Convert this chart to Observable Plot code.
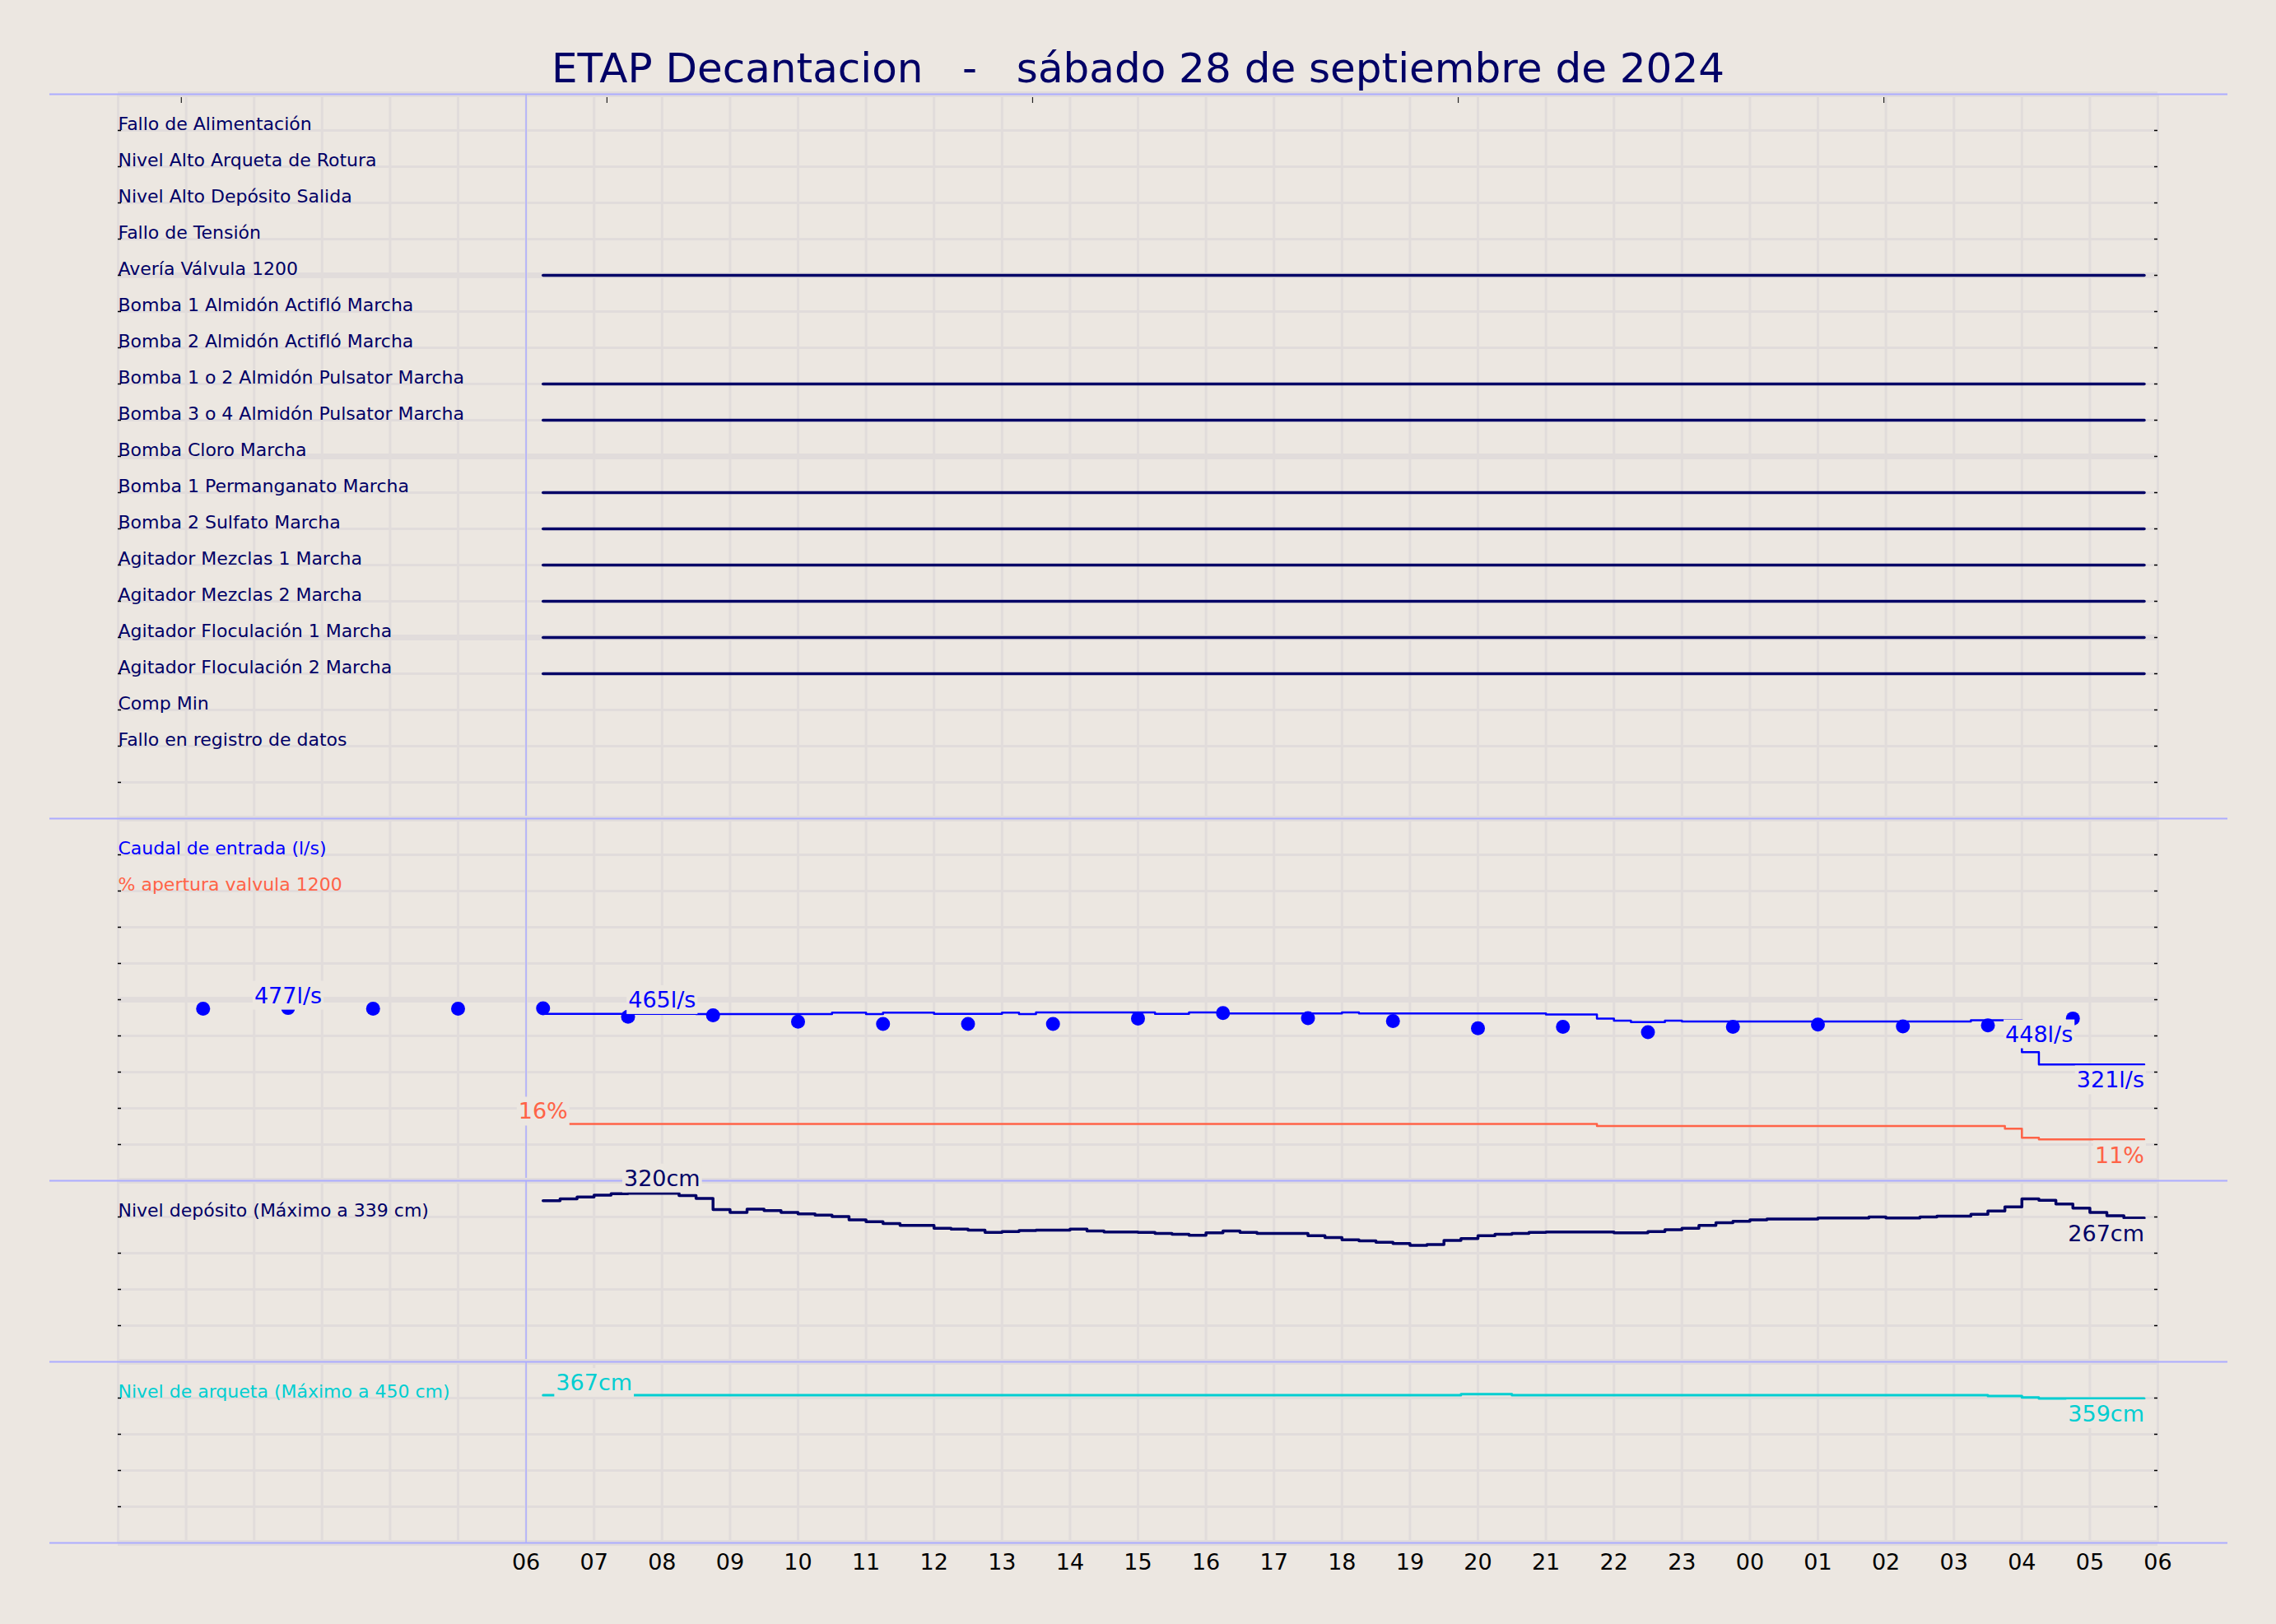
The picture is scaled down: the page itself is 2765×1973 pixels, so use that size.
<!DOCTYPE html>
<html lang="es">
<head>
<meta charset="utf-8">
<title>ETAP Decantacion</title>
<script src="https://cdn.jsdelivr.net/npm/d3@7"></script>
<script src="https://cdn.jsdelivr.net/npm/@observablehq/plot@0.6"></script>
<style>
  html, body { margin: 0; padding: 0; background: #ece7e1; }
  #lienzo { position: relative; width: 2765px; height: 1973px; background: #ece7e1; overflow: hidden; font-family: "DejaVu Sans", sans-serif; }
  #titulo { position: absolute; left: 0; top: 58px; width: 2765px; text-align: center; font-size: 50px; line-height: 50px; color: #000066; white-space: pre; }
  .panel { position: absolute; left: 0; width: 2765px; }
  .panel svg { display: block; overflow: visible; max-width: none; }
</style>
</head>
<body>
<div id="lienzo"><div id="titulo"></div></div>
<script>
// ------------------------------------------------------------------ datos
const titulo = "ETAP Decantacion   -   sábado 28 de septiembre de 2024";

// horas desde las 00:00 del sábado (6 = 06:00, 30 = 06:00 del domingo)
const horasEje = [6, 7, 8, 9, 10, 11, 12, 13, 14, 15, 16, 17, 18, 19, 20, 21, 22, 23, 24, 25, 26, 27, 28, 29, 30];
const etiquetasEje = ["06", "07", "08", "09", "10", "11", "12", "13", "14", "15", "16", "17", "18", "19", "20", "21", "22", "23", "00", "01", "02", "03", "04", "05", "06"];
const marcasSuperiores = [0.93, 7.19, 13.45, 19.71, 25.97];

const senales = [
  "Fallo de Alimentación",
  "Nivel Alto Arqueta de Rotura",
  "Nivel Alto Depósito Salida",
  "Fallo de Tensión",
  "Avería Válvula 1200",
  "Bomba 1 Almidón Actifló Marcha",
  "Bomba 2 Almidón Actifló Marcha",
  "Bomba 1 o 2 Almidón Pulsator Marcha",
  "Bomba 3 o 4 Almidón Pulsator Marcha",
  "Bomba Cloro Marcha",
  "Bomba 1 Permanganato Marcha",
  "Bomba 2 Sulfato Marcha",
  "Agitador Mezclas 1 Marcha",
  "Agitador Mezclas 2 Marcha",
  "Agitador Floculación 1 Marcha",
  "Agitador Floculación 2 Marcha",
  "Comp Min",
  "Fallo en registro de datos"
];
const senalesActivas = [0, 0, 0, 0, 1, 0, 0, 1, 1, 0, 1, 1, 1, 1, 1, 1, 0, 0];
const estadoHoras = [6.25, 29.8];

const caudalHoras   = [6.25, 8.5, 10.5, 11.0, 11.25, 12.0, 13.0, 13.25, 13.5, 15.25, 15.75, 16.25, 18.0, 18.25, 21.0, 21.75, 22.0, 22.25, 22.75, 23.0, 27.25, 28.0, 28.25, 29.8];
const caudalValores = [461, 460, 464, 460, 464, 461, 464, 460, 465, 461, 465, 462, 465, 462, 459, 448, 442, 438, 442, 440, 443, 355, 321, 321];

const caudalRefHoras   = [1.25, 2.5, 3.75, 5.0, 6.25, 7.5, 8.75, 10.0, 11.25, 12.5, 13.75, 15.0, 16.25, 17.5, 18.75, 20.0, 21.25, 22.5, 23.75, 25.0, 26.25, 27.5, 28.75];
const caudalRefValores = [475, 477, 475, 475, 476, 453, 457, 439, 433, 433, 433, 448, 463, 449, 441, 421, 425, 410, 425, 431, 426, 429, 448];

const aperturaHoras   = [6.25, 21.75, 27.75, 28.0, 28.25, 29.8];
const aperturaValores = [15.7, 15.1, 14.4, 11.9, 11.4, 11.4];

const depositoHoras = d3.range(6.25, 29.75, 0.25).concat([29.8]);
const depositoValores = [
  304, 308, 312,
  316, 319, 320, 320,
  320, 315, 309, 285,
  279, 286, 283, 279,
  276, 273, 270, 263,
  259, 255, 251, 251,
  245, 243, 241, 236,
  238, 240, 241, 241,
  243, 239, 237, 237,
  236, 234, 232, 230,
  235, 239, 236, 234,
  234, 234, 229, 225,
  220, 218, 215, 212,
  208, 210, 219, 223,
  229, 232, 234, 236,
  237, 237, 237, 237,
  235, 235, 238, 242,
  245, 251, 257, 260,
  263, 265, 265, 265,
  267, 267, 267, 269,
  267, 267, 269, 271,
  271, 275, 282, 291,
  308, 305, 297, 288,
  279, 272, 267,
  267
];

const arquetaHoras   = [6.25, 19.75, 20.5, 27.5, 28.0, 28.25, 29.8];
const arquetaValores = [367, 369.5, 367, 365, 361.5, 359, 359];

// anotaciones de valores (hora, valor, texto)
const anotCaudalArriba   = [{hora: 8.0, valor: 465, texto: "465l/s"}, {hora: 2.5, valor: 477, texto: "477l/s"}];
const anotCaudalAbajo    = [{hora: 29.8, valor: 321, texto: "321l/s"}, {hora: 28.75, valor: 448, texto: "448l/s"}];
const anotAperturaArriba = [{hora: 6.25, valor: 15.7, texto: "16%"}];
const anotAperturaAbajo  = [{hora: 29.8, valor: 11.4, texto: "11%"}];
const anotDepositoArriba = [{hora: 8.0, valor: 320, texto: "320cm"}];
const anotDepositoAbajo  = [{hora: 29.8, valor: 267, texto: "267cm"}];
const anotArquetaArriba  = [{hora: 7.0, valor: 367, texto: "367cm"}];
const anotArquetaAbajo   = [{hora: 29.8, valor: 359, texto: "359cm"}];

// ------------------------------------------------------------------ estilo
const FONDO = "#ece7e1";
const GRIS = "#e1dcdb";
const AZUL_CLARO = "#acacff";
const MARINO = "#000066";
const AZUL = "#0000ff";
const NARANJA = "#ff6347";
const TURQUESA = "#00ced1";
const W = 2765, ML = 143, MR = 144;
const ANCHO_MARCO = W - ML - MR;
const FILA = 44;
const TAM_ROTULO = 22;
const TAM_VALOR = 27;
const PAD_CAJA = 2;

document.getElementById("titulo").textContent = titulo;

const serie = (horas, valores) => horas.map((h, i) => ({h, v: valores[i]}));

function filasPanel(dominio, n, invertido) {
  const [lo, hi] = dominio;
  return d3.range(n + 1).map(k => ({k, v: invertido ? lo + k * (hi - lo) / n : hi - k * (hi - lo) / n}));
}

function fondoPanel({dominio, n, filaInicial, invertido, separadorInferior}) {
  const filas = filasPanel(dominio, n, invertido);
  const menores = filas.filter(f => (filaInicial + f.k) % 5 !== 0);
  const mayores = filas.filter(f => (filaInicial + f.k) % 5 === 0);
  const interiores = filas.filter(f => f.k > 0 && f.k < n);
  const seps = separadorInferior ? [filas[0], filas[n]] : [filas[0]];
  return [
    Plot.ruleX(d3.range(0, 31), {stroke: GRIS, strokeWidth: 3}),
    Plot.ruleY(menores, {y: "v", stroke: GRIS, strokeWidth: 3}),
    Plot.ruleY(mayores, {y: "v", stroke: GRIS, strokeWidth: 7}),
    Plot.ruleX([6], {stroke: AZUL_CLARO, strokeWidth: 1.5}),
    Plot.tickY(seps, {y: "v", insetLeft: -83, insetRight: -85, stroke: AZUL_CLARO, strokeWidth: 2}),
    Plot.tickY(interiores, {y: "v", insetRight: ANCHO_MARCO - 4, stroke: "black", strokeWidth: 1.5}),
    Plot.tickY(interiores, {y: "v", insetLeft: ANCHO_MARCO - 4, stroke: "black", strokeWidth: 1.5})
  ];
}

function grafico({alto, dominio, invertido = false, margenInferior = 0, marcas}) {
  return Plot.plot({
    width: W,
    height: alto + margenInferior,
    marginLeft: ML, marginRight: MR, marginTop: 0, marginBottom: margenInferior,
    x: {domain: [0, 30], axis: null},
    y: {domain: dominio, reverse: invertido, axis: null},
    style: {background: "transparent", overflow: "visible", fontFamily: "DejaVu Sans", fontSize: "27px", maxWidth: "none"},
    marks: marcas
  });
}

const textosConCaja = new Set();
function etiquetas(arriba, abajo, color, dyArriba = -6) {
  [...arriba, ...abajo].forEach(a => textosConCaja.add(a.texto));
  return [
    Plot.text(arriba, {x: "hora", y: "valor", text: "texto", textAnchor: "middle", lineAnchor: "bottom", dy: dyArriba, fill: color, fontSize: TAM_VALOR}),
    Plot.text(abajo, {x: "hora", y: "valor", text: "texto", textAnchor: "end", lineAnchor: "top", dy: 9, fill: color, fontSize: TAM_VALOR})
  ];
}

function rotulo(texto, valor, color) {
  return Plot.text([texto], {x: () => 0, y: () => valor, text: d => d, textAnchor: "start", lineAnchor: "bottom", dy: -1, fill: color, fontSize: TAM_ROTULO});
}

function colocar(svg, top) {
  const div = document.createElement("div");
  div.className = "panel";
  div.style.top = top + "px";
  div.appendChild(svg);
  document.getElementById("lienzo").appendChild(div);
}

// ------------------------------------------------------------------ panel 1: señales
const dom1 = [0, 20];
const estados = senales.flatMap((s, i) => senalesActivas[i] ? estadoHoras.map(h => ({senal: s, h, fila: i + 1})) : []);
colocar(grafico({
  alto: 20 * FILA, dominio: dom1, invertido: true,
  marcas: [
    ...fondoPanel({dominio: dom1, n: 20, filaInicial: 0, invertido: true}),
    Plot.tickX(marcasSuperiores, {x: d => d, insetTop: 4, insetBottom: 20 * FILA - 11, stroke: "#222", strokeWidth: 1.2}),
    Plot.line(estados, {x: "h", y: "fila", z: "senal", curve: "step-after", stroke: MARINO, strokeWidth: 3.5}),
    Plot.text(senales, {x: () => 0, y: (d, i) => i + 1, text: d => d, textAnchor: "start", lineAnchor: "bottom", dy: -1, fill: MARINO, fontSize: TAM_ROTULO})
  ]
}), 114);

// ------------------------------------------------------------------ panel 2: caudal y apertura
const dom2 = [0, 1000];
const filas2 = filasPanel(dom2, 10, false);
colocar(grafico({
  alto: 10 * FILA, dominio: dom2,
  marcas: [
    ...fondoPanel({dominio: dom2, n: 10, filaInicial: 20}),
    rotulo("Caudal de entrada (l/s)", filas2[1].v, AZUL),
    rotulo("% apertura valvula 1200", filas2[2].v, NARANJA),
    Plot.line(serie(caudalHoras, caudalValores), {x: "h", y: "v", curve: "step-after", stroke: AZUL, strokeWidth: 2.5}),
    Plot.dot(serie(caudalRefHoras, caudalRefValores), {x: "h", y: "v", r: 8.5, fill: AZUL, stroke: "none"}),
    ...etiquetas(anotCaudalArriba, anotCaudalAbajo, AZUL)
  ]
}), 994);
colocar(grafico({
  alto: 10 * FILA, dominio: [0, 100],
  marcas: [
    Plot.line(serie(aperturaHoras, aperturaValores), {x: "h", y: "v", curve: "step-after", stroke: NARANJA, strokeWidth: 2.5}),
    ...etiquetas(anotAperturaArriba, anotAperturaAbajo, NARANJA)
  ]
}), 994);

// ------------------------------------------------------------------ panel 3: nivel depósito
const dom3 = [-42, 347];
const filas3 = filasPanel(dom3, 5, false);
colocar(grafico({
  alto: 5 * FILA, dominio: dom3,
  marcas: [
    ...fondoPanel({dominio: dom3, n: 5, filaInicial: 30}),
    rotulo("Nivel depósito (Máximo a 339 cm)", filas3[1].v, MARINO),
    Plot.line(serie(depositoHoras, depositoValores), {x: "h", y: "v", curve: "step-after", stroke: MARINO, strokeWidth: 3.5}),
    ...etiquetas(anotDepositoArriba, anotDepositoAbajo, MARINO, -9)
  ]
}), 1434);

// ------------------------------------------------------------------ panel 4: nivel arqueta + eje
const dom4 = [0, 450];
const filas4 = filasPanel(dom4, 5, false);
colocar(grafico({
  alto: 5 * FILA, dominio: dom4, margenInferior: 99,
  marcas: [
    ...fondoPanel({dominio: dom4, n: 5, filaInicial: 35, separadorInferior: true}),
    rotulo("Nivel de arqueta (Máximo a 450 cm)", filas4[1].v, TURQUESA),
    Plot.line(serie(arquetaHoras, arquetaValores), {x: "h", y: "v", curve: "step-after", stroke: TURQUESA, strokeWidth: 3}),
    ...etiquetas(anotArquetaArriba, anotArquetaAbajo, TURQUESA),
    Plot.axisX(horasEje, {anchor: "bottom", tickSize: 0, tickPadding: 13, label: null,
      tickFormat: d => etiquetasEje[horasEje.indexOf(d)], fontSize: 27, color: "black"})
  ]
}), 1654);

// cajas de fondo bajo las etiquetas de valor (como el bbox de una anotación)
document.querySelectorAll("#lienzo svg text").forEach(t => {
  if (!textosConCaja.has(t.textContent)) return;
  const b = t.getBBox();
  const r = document.createElementNS("http://www.w3.org/2000/svg", "rect");
  r.setAttribute("x", b.x - PAD_CAJA);
  r.setAttribute("y", b.y - PAD_CAJA);
  r.setAttribute("width", b.width + 2 * PAD_CAJA);
  r.setAttribute("height", b.height + 2 * PAD_CAJA);
  r.setAttribute("fill", FONDO);
  r.setAttribute("stroke", "none");
  const tr = t.getAttribute("transform");
  if (tr) r.setAttribute("transform", tr);
  t.parentNode.insertBefore(r, t);
});
</script>
</body>
</html>
